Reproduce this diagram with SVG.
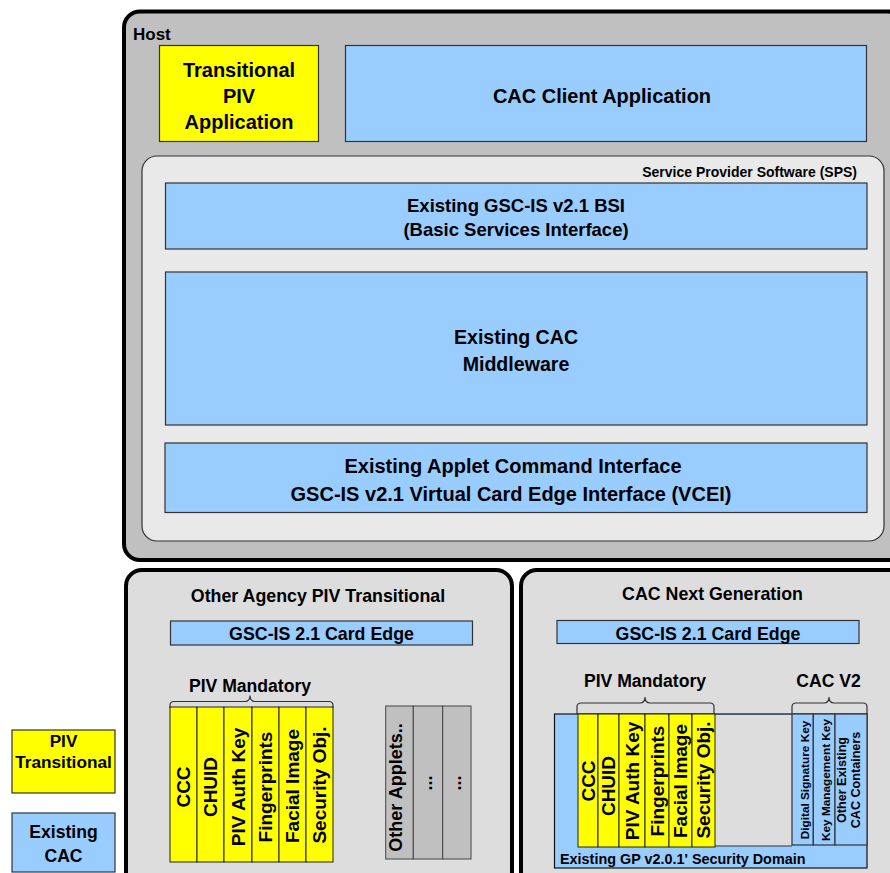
<svg xmlns="http://www.w3.org/2000/svg" width="890" height="873" viewBox="0 0 890 873">
<style>
text{font-family:"Liberation Sans",Arial,sans-serif;font-weight:bold;fill:#000}
.blue{fill:#99ccff;stroke:#333;stroke-width:1.2}
.yel{fill:#ffff00;stroke:#222;stroke-width:1}
.gry{fill:#c0c0c0;stroke:#444;stroke-width:1}
.frame{stroke:#000;stroke-width:4}
.brace{fill:none;stroke:#333;stroke-width:1.2}
.c{text-anchor:middle}
.f20{font-size:20px}
.f19{font-size:19px}
.f18{font-size:18px}
.f17{font-size:17.6px}
</style>
<rect width="890" height="873" fill="#fff"/>

<g id="host">
<rect class="frame" x="124" y="11.5" width="780" height="548.5" rx="16" fill="#c0c0c0"/>
<text x="133" y="40" font-size="17">Host</text>
</g>

<g id="transitional-piv-app">
<rect class="yel" x="159.5" y="45.5" width="159" height="96" style="stroke:#333;stroke-width:1.2"/>
<text class="c f20" x="239" y="77">Transitional</text>
<text class="c f20" x="239" y="103">PIV</text>
<text class="c f20" x="239" y="129">Application</text>
</g>

<g id="cac-client">
<rect class="blue" x="345.5" y="45.5" width="521" height="96"/>
<text class="c f20" x="602" y="103">CAC Client Application</text>
</g>

<g id="sps">
<rect x="142" y="156" width="742" height="385" rx="15" fill="#e9e9e9" stroke="#333" stroke-width="1.2"/>
<text x="857" y="177" font-size="14" text-anchor="end">Service Provider Software (SPS)</text>
</g>

<g id="bsi">
<rect class="blue" x="165.5" y="183" width="701.5" height="66"/>
<text class="c" x="516" y="212" font-size="18.5">Existing GSC-IS v2.1 BSI</text>
<text class="c" x="516" y="236" font-size="18.5">(Basic Services Interface)</text>
</g>

<g id="middleware">
<rect class="blue" x="165.5" y="272" width="701.5" height="153"/>
<text class="c" font-size="19.6" x="516" y="344">Existing CAC</text>
<text class="c" font-size="19.6" x="516" y="371">Middleware</text>
</g>

<g id="vcei">
<rect class="blue" x="165" y="443" width="702" height="69.5"/>
<text class="c f20" x="513" y="473">Existing Applet Command Interface</text>
<text class="c f20" x="511" y="501">GSC-IS v2.1 Virtual Card Edge Interface (VCEI)</text>
</g>

<g id="other-agency-card">
<rect class="frame" x="126" y="570" width="386" height="330" rx="16" fill="#dddddd"/>
<text class="c" x="318" y="602" font-size="17.8">Other Agency PIV Transitional</text>
<rect class="blue" x="170.5" y="621" width="302" height="24"/>
<text class="c" x="321.5" y="640" font-size="17.8">GSC-IS 2.1 Card Edge</text>
<text class="c f17" x="250" y="692">PIV Mandatory</text>
<rect class="yel" x="170" y="707" width="27" height="155"/>
<rect class="yel" x="197" y="707" width="27" height="155"/>
<rect class="yel" x="224" y="707" width="28" height="155"/>
<rect class="yel" x="252" y="707" width="27" height="155"/>
<rect class="yel" x="279" y="707" width="27" height="155"/>
<rect class="yel" x="306" y="707" width="27" height="155"/>
<text class="c f19" transform="translate(190,787) rotate(-90)">CCC</text>
<text class="c f19" transform="translate(217,787) rotate(-90)">CHUID</text>
<text class="c f19" transform="translate(244.5,787) rotate(-90)">PIV Auth Key</text>
<text class="c f19" transform="translate(271.5,787) rotate(-90)">Fingerprints</text>
<text class="c f19" transform="translate(298.5,786) rotate(-90)">Facial Image</text>
<text class="c f19" transform="translate(325.5,785) rotate(-90)">Security Obj.</text>
<rect class="gry" x="385.7" y="706" width="27.6" height="153"/>
<rect class="gry" x="413.3" y="706" width="29.4" height="153"/>
<rect class="gry" x="442.7" y="706" width="28.3" height="153"/>
<text class="c f18" transform="translate(402,787.5) rotate(-90)">Other Applets..</text>
<text class="c f18" transform="translate(432,783) rotate(-90)">...</text>
<text class="c f18" transform="translate(461,783) rotate(-90)">...</text>
</g>

<g id="cac-next-gen-card">
<rect class="frame" x="521" y="570" width="400" height="330" rx="16" fill="#dddddd"/>
<text class="c" x="712.5" y="600" font-size="17.8">CAC Next Generation</text>
<rect class="blue" x="557" y="620.5" width="302" height="23"/>
<text class="c" x="708" y="640" font-size="17.8">GSC-IS 2.1 Card Edge</text>
<text class="c f17" x="645" y="687">PIV Mandatory</text>
<text class="c f17" x="828.5" y="687">CAC V2</text>
<rect x="554.5" y="714" width="312.5" height="154" fill="#99ccff" stroke="#111" stroke-width="1.2"/>
<rect x="715" y="715" width="77" height="131" fill="#dddddd"/>
<line x1="715" y1="846" x2="792" y2="846" stroke="#333" stroke-width="1.2"/>
<rect class="yel" x="578" y="714" width="20" height="133"/>
<rect class="yel" x="598" y="714" width="21" height="133"/>
<rect class="yel" x="619" y="714" width="26" height="133"/>
<rect class="yel" x="645" y="714" width="24" height="133"/>
<rect class="yel" x="669" y="714" width="23" height="133"/>
<rect class="yel" x="692" y="714" width="23" height="133"/>
<text class="c f19" transform="translate(594.5,781) rotate(-90)">CCC</text>
<text class="c f19" transform="translate(615,786) rotate(-90)">CHUID</text>
<text class="c f19" transform="translate(638.5,781) rotate(-90)">PIV Auth Key</text>
<text class="c f19" transform="translate(663.5,781) rotate(-90)">Fingerprints</text>
<text class="c f19" transform="translate(687,781) rotate(-90)">Facial Image</text>
<text class="c f19" transform="translate(710,780) rotate(-90)">Security Obj.</text>
<rect class="blue" x="792" y="714" width="21.3" height="131"/>
<rect class="blue" x="813.3" y="714" width="21.7" height="131"/>
<rect class="blue" x="835" y="714" width="32" height="131"/>
<text class="c" font-size="11.8" transform="translate(808.5,780) rotate(-90)">Digital Signature Key</text>
<text class="c" font-size="11.8" transform="translate(830,780) rotate(-90)">Key Management Key</text>
<text class="c" font-size="12.6" transform="translate(846,780) rotate(-90)">Other Existing</text>
<text class="c" font-size="12.6" transform="translate(859.5,780) rotate(-90)">CAC Containers</text>
<text x="560" y="864" font-size="14.4">Existing GP v2.0.1' Security Domain</text>
</g>

<g id="connectors">
<path class="brace" d="M170,708 v-2.5 q0,-4 4,-4 h71 q5,0 5,-6 q0,6 5,6 h74 q4,0 4,4 v2.5"/>
<path class="brace" d="M577,714 v-7 q0,-4 4,-4 h59 q5,0 5,-6 q0,6 5,6 h60 q4,0 4,4 v7"/>
<path class="brace" d="M792,714 v-7 q0,-4 4,-4 h28 q5,0 5,-6 q0,6 5,6 h29 q4,0 4,4 v7"/>
</g>

<g id="legend-piv-transitional">
<rect class="yel" x="12" y="730" width="103" height="63" style="stroke:#333;stroke-width:1.2"/>
<text class="c" font-size="17.2" x="63.5" y="747">PIV</text>
<text class="c" font-size="17.2" x="63.5" y="768">Transitional</text>
</g>

<g id="legend-existing-cac">
<rect class="blue" x="12" y="813" width="103" height="59"/>
<text class="c f17" x="63.5" y="838">Existing</text>
<text class="c f17" x="63.5" y="862">CAC</text>
</g>
</svg>
